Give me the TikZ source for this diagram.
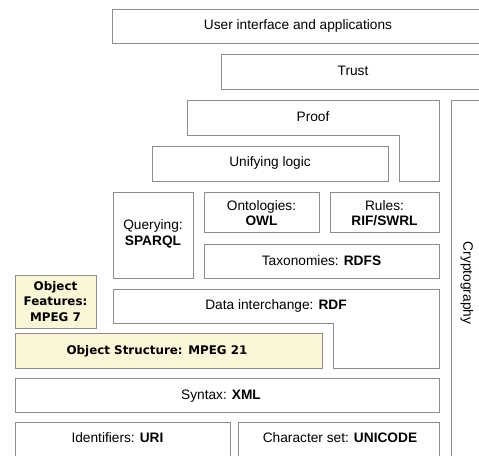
\documentclass[tikz,border=0pt]{standalone}
\usepackage{fontspec}
\setmainfont{Liberation Sans}
\newfontfamily\objfont{DejaVu Sans}
\definecolor{boxgray}{HTML}{8C8C8C}
\definecolor{objfill}{HTML}{FCF6D8}
\begin{document}
\begin{tikzpicture}[x=1pt, y=-1pt, every node/.style={inner sep=0pt, align=center, font=\fontsize{13.7}{15.5}\selectfont},
    layer/.style={draw=boxgray, line width=0.9pt, fill=white},
    objlayer/.style={draw=boxgray, line width=0.9pt, fill=objfill},
    objtext/.style={font=\objfont\bfseries\fontsize{11.9}{15.5}\selectfont}]
    \useasboundingbox (0,0) rectangle (479,455);
    \clip (0,0) rectangle (479,455);

    % Applications and trust
    \draw[layer] (112,9) rectangle (486,43);
    \node (ui) at (298,26) {User interface and applications};
    \draw[layer] (221,54) rectangle (486,89);
    \node (trust) at (353,71) {Trust};

    % Proof
    \draw[layer] (187,100) -- (439,100) -- (439,181) -- (399,181) -- (399,135) -- (187,135) -- cycle;
    \node (proof) at (313,117) {Proof};
    \draw[layer] (152,146) rectangle (388,181);
    \node (logic) at (270,163) {Unifying logic};

    % Cryptography
    \draw[layer] (451,100) rectangle (490,470);
    \node[rotate=-90] (crypto) at (467,283) {Cryptography};

    % Query, ontologies, rules
    \draw[layer] (113,192) rectangle (193,278);
    \node (query) at (153,234) {Querying:\\\textbf{SPARQL}};
    \draw[layer] (204,192) rectangle (319,232);
    \node (onto) at (261.5,213) {Ontologies:\\\textbf{OWL}};
    \draw[layer] (330,192) rectangle (439,232);
    \node (rules) at (384.5,213) {Rules:\\\textbf{RIF/SWRL}};
    \draw[layer] (204,244) rectangle (439,278);
    \node (rdfs) at (321.5,261) {Taxonomies: \textbf{RDFS}};

    % Data interchange
    \draw[layer] (113,289) -- (439,289) -- (439,368) -- (333,368) -- (333,323) -- (113,323) -- cycle;
    \node (rdf) at (276,306) {Data interchange: \textbf{RDF}};

    % Object layers
    \draw[objlayer] (15,275) rectangle (96,328);
    \node[objtext] (mpeg7) at (55.5,301.5) {Object\\Features:\\MPEG 7};
    \draw[objlayer] (15,333) rectangle (322,368);
    \node[objtext] (mpeg21) at (157,351) {Object Structure: MPEG 21};

    % Syntax, identifiers, characters
    \draw[layer] (15,378) rectangle (439,412);
    \node (xml) at (221,396) {Syntax: \textbf{XML}};
    \draw[layer] (15,422) rectangle (230,470);
    \node (uri) at (117.5,438) {Identifiers: \textbf{URI}};
    \draw[layer] (238,422) rectangle (439,470);
    \node (unicode) at (340,438) {Character set: \textbf{UNICODE}};
\end{tikzpicture}
\end{document}
